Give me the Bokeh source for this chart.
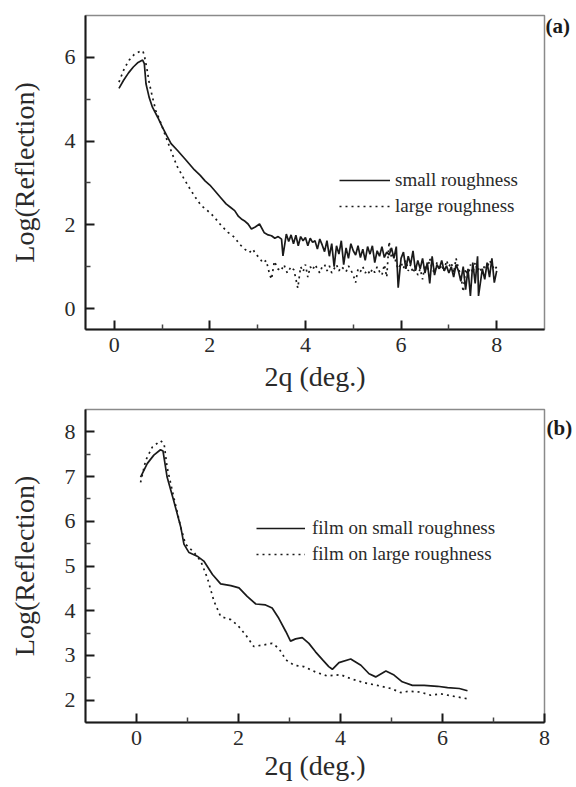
from bokeh.plotting import figure
from bokeh.models import FixedTicker, Legend, LegendItem, LinearAxis, Range1d
from bokeh.layouts import column
from bokeh.embed import file_html
from bokeh.resources import INLINE

# ---------------- data: panel (a) ----------------
a_small_x = [0.10, 0.20, 0.30, 0.40, 0.50, 0.595, 0.63, 0.665, 0.73, 0.80, 0.91, 1.01, 1.10, 1.19,
             1.33, 1.50, 1.68, 1.80, 1.90, 2.00, 2.10, 2.22, 2.34, 2.43, 2.52, 2.60, 2.66, 2.72,
             2.80, 2.87, 2.95, 3.04, 3.14, 3.22, 3.29, 3.36, 3.43, 3.50, 3.53, 3.60,
             3.65, 3.70, 3.75, 3.80, 3.85, 3.90, 3.95, 4.00, 4.05, 4.10, 4.15, 4.20, 4.25, 4.30,
             4.35, 4.40, 4.45, 4.50, 4.55, 4.60, 4.65, 4.70, 4.75, 4.80, 4.85, 4.90, 4.95, 5.00,
             5.05, 5.10, 5.15, 5.20, 5.25, 5.30, 5.35, 5.40, 5.45, 5.50, 5.55, 5.60, 5.65, 5.70,
             5.75, 5.80, 5.85, 5.90, 5.94, 6.00, 6.05, 6.10, 6.15, 6.20, 6.25, 6.30, 6.35, 6.40,
             6.45, 6.50, 6.55, 6.60, 6.65, 6.70, 6.75, 6.80, 6.85, 6.90, 6.95, 7.00, 7.05, 7.10,
             7.15, 7.20, 7.25, 7.30, 7.35, 7.40, 7.45, 7.50, 7.55, 7.60, 7.62, 7.70, 7.75, 7.80,
             7.85, 7.90, 7.95, 8.00]
a_small_y = [5.26, 5.46, 5.63, 5.77, 5.88, 5.935, 5.85, 5.37, 5.05, 4.81, 4.57, 4.33, 4.13, 3.94,
             3.77, 3.55, 3.31, 3.18, 3.05, 2.95, 2.82, 2.66, 2.50, 2.42, 2.34, 2.20, 2.14, 2.10,
             2.02, 1.90, 1.95, 2.02, 1.81, 1.76, 1.74, 1.68, 1.72, 1.66, 1.26, 1.78,
             1.60, 1.76, 1.55, 1.75, 1.50, 1.72, 1.62, 1.70, 1.50, 1.68, 1.58, 1.62, 1.42, 1.66,
             1.52, 1.36, 1.62, 1.25, 1.55, 1.00, 1.50, 1.30, 1.62, 1.05, 1.45, 1.20, 1.55, 1.38,
             1.28, 1.50, 1.22, 1.42, 1.15, 1.48, 1.30, 1.50, 1.10, 1.38, 1.25, 1.48, 1.22, 1.35,
             1.28, 1.45, 1.20, 1.48, 0.50, 1.20, 1.35, 0.95, 1.25, 1.05, 1.38, 0.90, 1.15, 0.95,
             1.20, 0.85, 1.10, 0.60, 1.25, 0.80, 1.05, 0.95, 1.15, 0.90, 1.02, 0.85, 1.00, 0.75,
             1.05, 0.90, 0.65, 1.00, 0.45, 0.95, 0.30, 1.10, 0.60, 1.25, 0.30, 0.95, 0.70, 1.10,
             0.75, 1.20, 0.62, 0.90]

a_large_x = [0.10, 0.21, 0.31, 0.42, 0.56, 0.60, 0.63, 0.69, 0.73, 0.80, 0.87, 0.98, 1.08, 1.19,
             1.31, 1.45, 1.60, 1.72, 1.82, 1.93, 2.03, 2.14, 2.24, 2.38, 2.52, 2.62, 2.73, 2.83,
             2.90, 2.96, 3.04, 3.11, 3.18, 3.25, 3.29, 3.35, 3.42, 3.49, 3.55, 3.62, 3.70, 3.76,
             3.84, 3.90, 3.95, 4.00, 4.05, 4.10, 4.15, 4.20, 4.25, 4.30, 4.35, 4.40, 4.45, 4.50,
             4.55, 4.60, 4.65, 4.70, 4.75, 4.80, 4.85, 4.90, 4.95, 5.00, 5.05, 5.10, 5.15, 5.20,
             5.25, 5.30, 5.35, 5.40, 5.45, 5.50, 5.55, 5.60, 5.65, 5.70, 5.75, 5.80, 5.85, 5.90,
             5.95, 6.00, 6.05, 6.10, 6.15, 6.20, 6.25, 6.30, 6.35, 6.40, 6.45, 6.50, 6.55, 6.60,
             6.65, 6.70, 6.75, 6.80, 6.85, 6.90, 6.95, 7.00, 7.05, 7.10, 7.15, 7.20, 7.25, 7.30,
             7.35, 7.40, 7.45, 7.50, 7.55, 7.60, 7.65, 7.70, 7.75, 7.80, 7.85, 7.90, 7.95, 8.00]
a_large_y = [5.41, 5.73, 5.93, 6.07, 6.16, 6.15, 6.05, 5.69, 5.41, 5.05, 4.73, 4.42, 4.10, 3.77,
             3.41, 3.12, 2.83, 2.62, 2.46, 2.36, 2.26, 2.12, 1.98, 1.82, 1.70, 1.54, 1.42, 1.34,
             1.42, 1.30, 1.21, 1.09, 1.15, 0.82, 0.70, 1.13, 0.95, 0.90, 1.05, 0.85, 1.00, 0.92,
             0.49, 1.00, 0.88, 1.05, 0.75, 1.00, 0.92, 1.05, 0.95, 0.85, 1.00, 1.05, 0.90, 1.02,
             0.85, 0.95, 1.05, 0.90, 1.00, 0.95, 0.88, 1.02, 0.92, 0.80, 0.62, 0.95, 0.88, 1.00,
             0.85, 0.92, 0.82, 0.95, 0.86, 1.00, 0.88, 0.80, 1.05, 0.75, 1.60, 1.20, 1.35, 1.05,
             0.95, 1.10, 0.95, 1.15, 0.90, 1.05, 0.85, 1.00, 0.80, 0.95, 0.70, 1.05, 0.90, 1.20,
             0.95, 0.85, 1.10, 0.92, 1.05, 0.88, 1.15, 1.00, 1.10, 0.85, 1.20, 0.95, 0.80, 0.40,
             0.95, 0.75, 1.05, 0.85, 1.10, 0.90, 1.00, 0.82, 1.05, 0.95, 1.15, 1.05, 0.92, 1.00]

# ---------------- data: panel (b) ----------------
b_small_x = [0.08, 0.21, 0.34, 0.47, 0.52, 0.60, 0.73, 0.87, 0.93, 1.03, 1.19, 1.32, 1.49, 1.65,
             1.85, 2.01, 2.17, 2.34, 2.53, 2.66, 2.79, 2.93, 3.02, 3.12, 3.25, 3.38, 3.51, 3.65,
             3.77, 3.84, 3.97, 4.20, 4.40, 4.56, 4.69, 4.89, 5.05, 5.21, 5.41, 5.64, 5.90, 6.10,
             6.33, 6.49]
b_small_y = [6.99, 7.29, 7.48, 7.60, 7.57, 6.99, 6.46, 5.86, 5.49, 5.30, 5.22, 5.11, 4.81, 4.60,
             4.56, 4.51, 4.32, 4.15, 4.13, 4.06, 3.83, 3.53, 3.32, 3.37, 3.40, 3.27, 3.08, 2.90,
             2.75, 2.69, 2.84, 2.92, 2.78, 2.59, 2.52, 2.65, 2.56, 2.41, 2.33, 2.33, 2.31, 2.28,
             2.26, 2.21]

b_large_x = [0.08, 0.18, 0.31, 0.47, 0.54, 0.60, 0.73, 0.87, 0.96, 1.13, 1.26, 1.39, 1.52, 1.65,
             1.85, 1.98, 2.14, 2.30, 2.47, 2.66, 2.79, 2.93, 3.09, 3.28, 3.51, 3.74, 4.00, 4.20,
             4.46, 4.72, 4.99, 5.18, 5.34, 5.57, 5.77, 5.97, 6.20, 6.49]
b_large_y = [6.87, 7.36, 7.66, 7.80, 7.74, 7.21, 6.54, 5.86, 5.49, 5.30, 5.11, 4.73, 4.21, 3.87,
             3.80, 3.68, 3.46, 3.20, 3.23, 3.27, 3.16, 2.90, 2.78, 2.75, 2.63, 2.54, 2.57, 2.48,
             2.39, 2.33, 2.26, 2.17, 2.20, 2.18, 2.11, 2.14, 2.09, 2.03]

# ---------------- axes / labels ----------------
a_x_major = [0, 2, 4, 6, 8]
a_x_minor = [1, 3, 5, 7]
a_y_major = [0, 2, 4, 6]
a_y_minor = [1, 3, 5]
b_x_major = [0, 2, 4, 6, 8]
b_x_minor = [1, 3, 5, 7]
b_y_major = [2, 3, 4, 5, 6, 7, 8]
b_y_minor = [2.5, 3.5, 4.5, 5.5, 6.5, 7.5]

x_title = "2q (deg.)"
y_title = "Log(Reflection)"
a_names = ["small roughness", "large roughness"]
b_names = ["film on small roughness", "film on large roughness"]
panel_tags = ["(a)", "(b)"]

SERIF = "'Liberation Serif', 'Times New Roman', serif"
INK = "#1a1a1a"
TXT = "#2a2a2a"
DOTS = "2 4"


def style(p, xmaj, xmin, ymaj, ymin):
    p.xaxis.ticker = FixedTicker(ticks=xmaj, minor_ticks=xmin)
    p.yaxis.ticker = FixedTicker(ticks=ymaj, minor_ticks=ymin)
    p.xgrid.visible = False
    p.ygrid.visible = False
    p.outline_line_color = "#8a8a8a"
    p.outline_line_width = 1.5
    for ax in (p.xaxis[0], p.yaxis[0]):
        ax.axis_line_color = INK
        ax.axis_line_width = 2
        ax.major_tick_in = 9
        ax.major_tick_out = 0
        ax.major_tick_line_width = 2
        ax.major_tick_line_color = INK
        ax.minor_tick_in = 5
        ax.minor_tick_out = 0
        ax.minor_tick_line_width = 1.5
        ax.minor_tick_line_color = "#444444"
        ax.major_label_text_font = SERIF
        ax.major_label_text_font_size = "22px"
        ax.major_label_text_color = TXT
        ax.axis_label_text_font = SERIF
        ax.axis_label_text_font_size = "28px"
        ax.axis_label_text_font_style = "normal"
        ax.axis_label_text_color = TXT
    p.xaxis.major_label_standoff = 8
    p.yaxis.major_label_standoff = 10
    p.yaxis.axis_label_standoff = 22
    p.xaxis.axis_label = x_title
    p.yaxis.axis_label = y_title


def add_legend(p, r1, r2, names, loc, gw, standoff):
    leg = Legend(items=[LegendItem(label=names[0], renderers=[r1]),
                        LegendItem(label=names[1], renderers=[r2])],
                 location=loc)
    leg.background_fill_alpha = 0
    leg.border_line_alpha = 0
    leg.padding = 0
    leg.margin = 0
    leg.spacing = 4
    leg.glyph_width = gw
    leg.glyph_height = 20
    leg.label_height = 20
    leg.label_standoff = standoff
    leg.label_text_font = SERIF
    leg.label_text_font_size = "19px"
    leg.label_text_color = TXT
    p.add_layout(leg)


def tag(p, text, ypos, standoff):
    # panel tag shown as the single label of a bare right-hand axis
    ax = LinearAxis(ticker=FixedTicker(ticks=[ypos], minor_ticks=[]),
                    major_label_overrides={ypos: text},
                    axis_line_color=None, major_tick_line_color=None,
                    minor_tick_line_color=None, major_tick_out=0, major_tick_in=0,
                    major_label_standoff=standoff,
                    major_label_text_font=SERIF, major_label_text_font_size="21px",
                    major_label_text_font_style="bold", major_label_text_color=INK)
    p.add_layout(ax, "right")


# ---------------- panel (a) ----------------
pa = figure(width=576, height=400, output_backend="svg", toolbar_location=None,
            x_range=Range1d(-0.6, 9.0), y_range=Range1d(-0.5, 7.0),
            min_border_left=84, min_border_right=32, min_border_top=15, min_border_bottom=71)
style(pa, a_x_major, a_x_minor, a_y_major, a_y_minor)
pa.xaxis.axis_label_standoff = 6
ra1 = pa.line(a_small_x, a_small_y, line_color=INK, line_width=1.7)
ra2 = pa.line(a_large_x, a_large_y, line_color=INK, line_width=1.7, line_dash=DOTS)
add_legend(pa, ra1, ra2, a_names, (254, 112), 51, 5)
tag(pa, panel_tags[0], 6.76, 1)

# ---------------- panel (b) ----------------
pb = figure(width=576, height=387, output_backend="svg", toolbar_location=None,
            x_range=Range1d(-1.0, 8.0), y_range=Range1d(1.5, 8.5),
            min_border_left=85, min_border_right=32, min_border_top=9, min_border_bottom=65)
style(pb, b_x_major, b_x_minor, b_y_major, b_y_minor)
pb.xaxis.axis_label_standoff = 2
rb1 = pb.line(b_small_x, b_small_y, line_color=INK, line_width=1.7)
rb2 = pb.line(b_large_x, b_large_y, line_color=INK, line_width=1.7, line_dash=DOTS)
add_legend(pb, rb1, rb2, b_names, (171, 157), 49, 7)
tag(pb, panel_tags[1], 8.08, 2)

layout = column(pa, pb, spacing=0)
open("out.html", "w").write(file_html(layout, INLINE))
